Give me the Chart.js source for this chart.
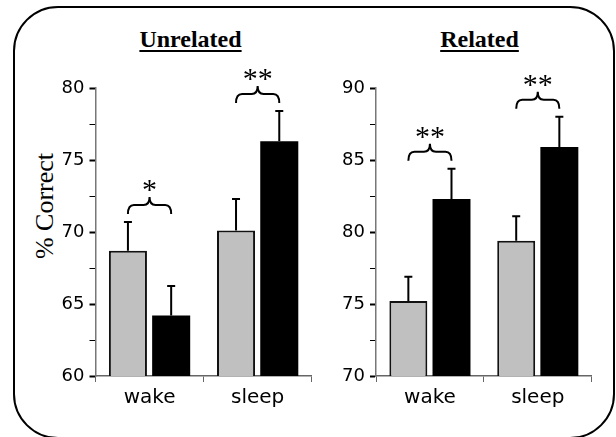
<!DOCTYPE html>
<html>
<head>
<meta charset="utf-8">
<script src="https://cdn.jsdelivr.net/npm/chart.js@4.4.1/dist/chart.umd.min.js"></script>
<style>
  html, body { margin: 0; padding: 0; background: #fff; overflow: hidden; }
  #page { position: relative; width: 616px; height: 437px; overflow: hidden; }
  #frame {
    position: absolute; left: 13px; top: 6px; width: 602px; height: 433px;
    box-sizing: border-box; border: 2px solid #000; border-radius: 45px;
  }
  .panelTitle {
    position: absolute; top: 27px; transform: translateX(-50%);
    font: bold 24px "Liberation Serif", serif; line-height: 24px;
    text-decoration: underline; text-decoration-thickness: 2px; text-underline-offset: 3px;
    white-space: nowrap;
  }
  #ylabel {
    position: absolute; left: 45px; top: 206px;
    transform: translate(-50%, -50%) rotate(-90deg);
    font: 26px "Liberation Serif", serif; white-space: nowrap;
  }
  canvas { position: absolute; top: 0; }
</style>
</head>
<body>
<div id="page">
  <div id="frame"></div>
  <div class="panelTitle" style="left:190.5px">Unrelated</div>
  <div class="panelTitle" style="left:479.5px">Related</div>
  <div id="ylabel">% Correct</div>
  <canvas id="unrelated" width="320" height="437" style="left:0"></canvas>
  <canvas id="related" width="296" height="437" style="left:320px"></canvas>
</div>
<script>
// values
var categories = ['wake', 'sleep'];

var unrelatedGray = [68.7, 70.1];
var unrelatedGrayErr = [2.0, 2.2];
var unrelatedBlack = [64.2, 76.3];
var unrelatedBlackErr = [2.05, 2.1];
var unrelatedSig = ['*', '**'];
var unrelatedRange = [60, 80];

var relatedGray = [75.2, 79.4];
var relatedGrayErr = [1.7, 1.7];
var relatedBlack = [82.3, 85.9];
var relatedBlackErr = [2.1, 2.1];
var relatedSig = ['**', '**'];
var relatedRange = [70, 90];

// error bars (upper only) plus the brace and stars above each pair
var errorBraces = {
    id: 'errorBraces',
    afterDatasetsDraw: function(chart, args, opts) {
        var ctx = chart.ctx;
        var y = chart.scales.y;
        var metas = [chart.getDatasetMeta(0), chart.getDatasetMeta(1)];
        var tops = [[], []];
        ctx.save();
        ctx.strokeStyle = '#000';
        ctx.lineWidth = 2;
        for (var d = 0; d < 2; d++) {
            var values = chart.data.datasets[d].data;
            metas[d].data.forEach(function(bar, i) {
                var yt = y.getPixelForValue(values[i] + opts.errors[d][i]);
                tops[d][i] = yt;
                ctx.beginPath();
                ctx.moveTo(bar.x, bar.y);
                ctx.lineTo(bar.x, yt);
                ctx.moveTo(bar.x - 4, yt);
                ctx.lineTo(bar.x + 4, yt);
                ctx.stroke();
            });
        }
        ctx.lineWidth = 2;
        ctx.fillStyle = '#000';
        ctx.font = '30px "Liberation Serif", serif';
        ctx.textAlign = 'center';
        ctx.textBaseline = 'alphabetic';
        for (var i = 0; i < categories.length; i++) {
            var x0 = metas[0].data[i].x;
            var x1 = metas[1].data[i].x;
            var xc = (x0 + x1) / 2;
            var b = Math.min(tops[0][i], tops[1][i]) - 8;
            var m = b - 9;
            var p = m - 8;
            var r = 6;
            ctx.beginPath();
            ctx.moveTo(x0, b);
            ctx.quadraticCurveTo(x0, m, x0 + r, m);
            ctx.lineTo(xc - r, m);
            ctx.quadraticCurveTo(xc, m, xc, p);
            ctx.quadraticCurveTo(xc, m, xc + r, m);
            ctx.lineTo(x1 - r, m);
            ctx.quadraticCurveTo(x1, m, x1, b);
            ctx.stroke();
            ctx.fillText(opts.sig[i], xc, p + 2);
        }
        ctx.restore();
    }
};

function makePanel(id, gray, grayErr, black, blackErr, sig, range, pad, yWidth) {
    return new Chart(document.getElementById(id), {
        type: 'bar',
        data: {
            labels: categories,
            datasets: [
                {
                    data: gray,
                    backgroundColor: '#c0c0c0',
                    borderColor: '#111',
                    borderWidth: 2,
                    borderSkipped: false,
                    categoryPercentage: 0.8,
                    barPercentage: 0.88
                },
                {
                    data: black,
                    backgroundColor: '#000',
                    borderWidth: 0,
                    categoryPercentage: 0.8,
                    barPercentage: 0.88
                }
            ]
        },
        options: {
            responsive: false,
            animation: false,
            layout: { padding: pad },
            plugins: {
                legend: { display: false },
                tooltip: { enabled: false },
                errorBraces: { errors: [grayErr, blackErr], sig: sig }
            },
            scales: {
                x: {
                    grid: { drawOnChartArea: false, color: '#666', tickLength: 6 },
                    border: { color: '#666', width: 1.5 },
                    ticks: { color: '#000', padding: 4, font: { family: 'DejaVu Sans', size: 20 } },
                    afterFit: function(s) { s.height = 40; }
                },
                y: {
                    min: range[0],
                    max: range[1],
                    grid: {
                        drawOnChartArea: false,
                        tickLength: 6,
                        tickColor: '#000',
                        tickWidth: function(c) { return c.tick && c.tick.value % 5 === 0 ? 2 : 1; }
                    },
                    border: { color: '#777', width: 1.5 },
                    ticks: {
                        stepSize: 2.5,
                        color: '#000',
                        padding: 5,
                        font: { family: 'DejaVu Sans', size: 18 },
                        callback: function(v) { return v % 5 === 0 ? v : ''; }
                    },
                    afterFit: function(s) { s.width = yWidth; }
                }
            }
        },
        plugins: [errorBraces]
    });
}

makePanel('unrelated', unrelatedGray, unrelatedGrayErr, unrelatedBlack, unrelatedBlackErr,
    unrelatedSig, unrelatedRange, { left: 0, right: 8.3, top: 88, bottom: 21 }, 95.5);
makePanel('related', relatedGray, relatedGrayErr, relatedBlack, relatedBlackErr,
    relatedSig, relatedRange, { left: 0, right: 24.3, top: 88, bottom: 21 }, 56);
</script>
</body>
</html>
